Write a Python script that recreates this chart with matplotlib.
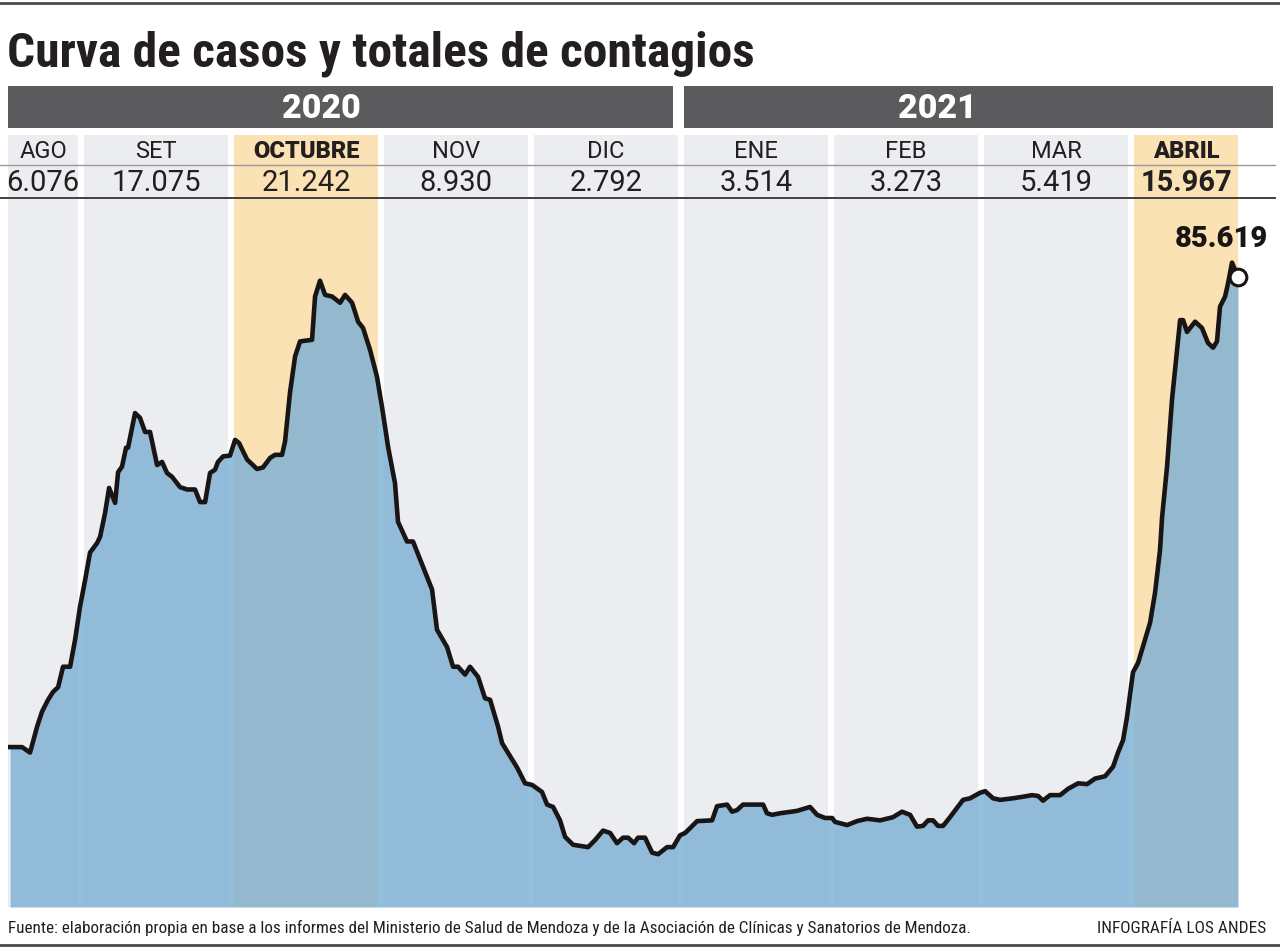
import matplotlib
matplotlib.use("Agg")
import matplotlib.pyplot as plt
from matplotlib import font_manager as fm
from matplotlib.patches import Rectangle

# posicion en meses desde el 1 de agosto de 2020 (0 = AGO ... 8 = ABRIL)
pos = [0.527, 0.607, 0.660, 0.707, 0.740, 0.780, 0.813, 0.847, 0.880, 0.927,
       0.960, 0.993, 1.027, 1.060, 1.107, 1.127, 1.160, 1.187, 1.227, 1.247,
       1.273, 1.300, 1.313, 1.360, 1.393, 1.427, 1.460, 1.507, 1.540, 1.573,
       1.607, 1.660, 1.707, 1.760, 1.793, 1.827, 1.860, 1.893, 1.913, 1.947,
       1.993, 2.027, 2.053, 2.107, 2.173, 2.213, 2.260, 2.293, 2.340, 2.360,
       2.393, 2.427, 2.460, 2.540, 2.560, 2.593, 2.627, 2.673, 2.727, 2.760,
       2.807, 2.847, 2.880, 2.927, 2.973, 3.007, 3.047, 3.093, 3.113, 3.173,
       3.213, 3.280, 3.340, 3.373, 3.440, 3.480, 3.513, 3.560, 3.593, 3.647,
       3.693, 3.727, 3.780, 3.807, 3.907, 3.960, 4.007, 4.073, 4.107, 4.147,
       4.193, 4.227, 4.280, 4.380, 4.427, 4.480, 4.527, 4.573, 4.613, 4.647,
       4.687, 4.713, 4.760, 4.807, 4.847, 4.907, 4.947, 4.993, 5.027, 5.060,
       5.107, 5.207, 5.240, 5.307, 5.340, 5.373, 5.413, 5.547, 5.573, 5.607,
       5.660, 5.773, 5.860, 5.907, 5.960, 6.007, 6.027, 6.107, 6.173, 6.240,
       6.327, 6.413, 6.473, 6.527, 6.573, 6.613, 6.647, 6.680, 6.713, 6.747,
       6.793, 6.880, 6.927, 6.993, 7.027, 7.080, 7.127, 7.213, 7.280, 7.340,
       7.380, 7.413, 7.460, 7.527, 7.580, 7.647, 7.707, 7.760, 7.827, 7.880,
       7.913, 7.947, 7.973, 8.013, 8.047, 8.127, 8.160, 8.193, 8.207, 8.240,
       8.273, 8.307, 8.327, 8.347, 8.373, 8.427, 8.473, 8.513, 8.547, 8.573,
       8.593, 8.627, 8.647, 8.673, 8.700, 8.713]

# casos diarios (promedio movil)
cases = [203, 203, 196, 229, 248, 263, 273, 279, 305, 305,
         339, 381, 415, 450, 462, 470, 500, 532, 513, 552,
         559, 583, 583, 627, 621, 603, 603, 561, 565, 551,
         546, 533, 530, 530, 514, 514, 551, 555, 565, 572,
         573, 593, 589, 568, 556, 558, 570, 574, 574, 591,
         653, 699, 718, 720, 775, 795, 777, 775, 767, 777,
         767, 743, 735, 707, 673, 634, 584, 538, 489, 464,
         464, 432, 403, 352, 330, 305, 305, 295, 305, 292,
         265, 263, 229, 208, 177, 157, 155, 146, 130, 127,
         110, 89, 79, 76, 85, 97, 94, 81, 88, 88,
         81, 88, 88, 69, 67, 76, 76, 91, 94, 100,
         109, 110, 128, 130, 121, 123, 130, 130, 119, 117,
         119, 122, 127, 117, 113, 113, 108, 104, 109, 112,
         110, 114, 121, 117, 102, 103, 110, 110, 103, 103,
         114, 136, 138, 145, 147, 138, 136, 138, 140, 142,
         141, 135, 142, 142, 150, 157, 156, 163, 166, 178,
         196, 212, 241, 298, 310, 361, 399, 453, 495, 559,
         644, 707, 745, 745, 730, 743, 735, 716, 710, 718,
         762, 775, 792, 818, 806, 800]

years = ['2020', '2021']
months = ['AGO', 'SET', 'OCTUBRE', 'NOV', 'DIC', 'ENE', 'FEB', 'MAR', 'ABRIL']
month_totals = ['6.076', '17.075', '21.242', '8.930', '2.792', '3.514', '3.273', '5.419', '15.967']
highlight = ['OCTUBRE', 'ABRIL']
total_label = '85.619'

names = {f.name for f in fm.fontManager.ttflist}
def pick(*cands):
    for c in cands:
        if c in names:
            return c
    return 'DejaVu Sans'
cond = pick('Roboto Condensed', 'Open Sans Condensed', 'Noto Sans Condensed',
            'Liberation Sans Narrow', 'Roboto')
reg = pick('Roboto', 'Open Sans', 'DejaVu Sans')

W, H = 1280, 947
fig = plt.figure(figsize=(W / 100, H / 100), dpi=100)
fig.patch.set_facecolor('white')

# area principal: px 8..1238 en x, 135..907 en y
ax = fig.add_axes([8 / W, (H - 907) / H, (1238 - 8) / W, (907 - 135) / H])
x0, x1 = 0.513, 8.713
ax.set_xlim(x0, x1)
ax.set_ylim(0, 980)
ax.axis('off')

gray = '#ecedf0'
orange = '#fbe2b4'
for i, m in enumerate(months):
    c = orange if m in highlight else gray
    ax.axvspan(i + 0.02, i + 0.98, color=c, lw=0, zorder=0)

ax.fill_between(pos, cases, 0, color='#7db1d4', alpha=0.82, lw=0, zorder=2)
ax.plot(pos, cases, color='#1a1515', lw=3.3, zorder=3, solid_joinstyle='round')
ax.plot(pos[-1], cases[-1], 'o', ms=12, mfc='white', mec='#1a1515', mew=2.2,
        zorder=4, clip_on=False)
ax.text(pos[-1] - 0.11, cases[-1] + 48, total_label, ha='center', va='center',
        fontsize=21, fontweight='heavy', family=reg, color='#1a1515', clip_on=False)

tr = ax.get_xaxis_transform()
for i, (m, v) in enumerate(zip(months, month_totals)):
    cx = (max(i + 0.02, x0) + min(i + 0.98, x1)) / 2
    w = 'heavy' if m in highlight else 'normal'
    ax.text(cx, (907 - 151) / 772, m, transform=tr, ha='center', va='center',
            fontsize=17, fontweight=w, family=reg, color='#231f20', zorder=5)
    w = 'bold' if m == 'ABRIL' else 'normal'
    ax.text(cx, (907 - 183) / 772, v, transform=tr, ha='center', va='center',
            fontsize=21, fontweight=w, family=reg, color='#231f20', zorder=5)

# capa de maquetacion en pixeles
lay = fig.add_axes([0, 0, 1, 1], zorder=10)
lay.set_xlim(0, W)
lay.set_ylim(H, 0)
lay.axis('off')
lay.patch.set_alpha(0)

lay.plot([0, W], [3, 3], color='#4a4a4a', lw=2)
lay.plot([0, W], [945, 945], color='#4a4a4a', lw=2)
lay.plot([0, 1275], [165, 165], color='#9a9a9a', lw=1)
lay.plot([0, 1275], [198, 198], color='#333333', lw=1.3)

lay.text(7, 66, 'Curva de casos y totales de contagios', ha='left', va='baseline',
         fontsize=35.6, fontweight='heavy', family=cond, color='#231f20')

for yr, (a, b), cx in zip(years, [(8, 673), (684, 1273)], [321, 937]):
    lay.add_patch(Rectangle((a, 86), b - a, 42, color='#5b5b5e', lw=0))
    lay.text(cx, 118, yr, ha='center', va='baseline', fontsize=24.5,
             fontweight='heavy', family=reg, color='white')

lay.text(8, 928, 'Fuente: elaboración propia en base a los informes del Ministerio de Salud '
         'de Mendoza y de la Asociación de Clínicas y Sanatorios de Mendoza.',
         ha='left', va='center', fontsize=12.3, family=cond, color='#231f20')
lay.text(1266, 928, 'INFOGRAFÍA LOS ANDES', ha='right', va='center', fontsize=12.4,
         family=cond, color='#231f20')

fig.savefig('out.png', dpi=100, facecolor='white')
